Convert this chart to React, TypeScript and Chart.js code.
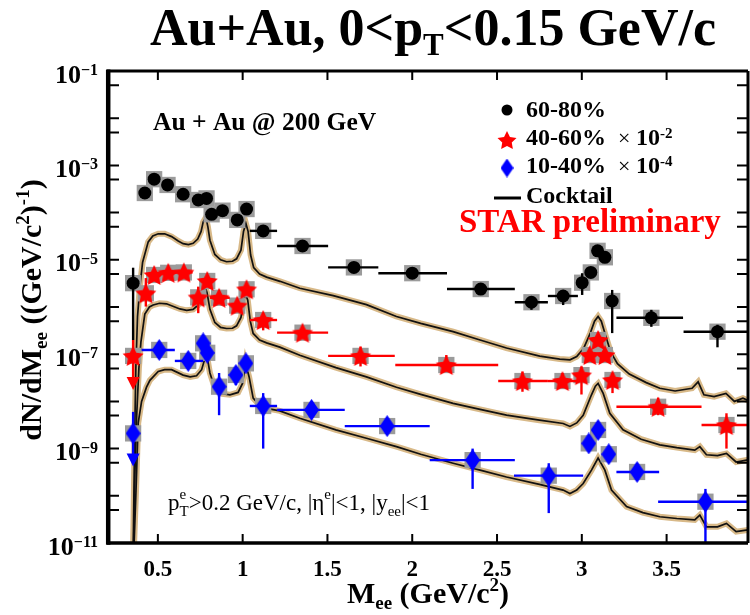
import React, { useEffect, useRef } from "react";
import { Chart, registerables } from "chart.js";
Chart.register(...registerables);

// ---------------- axis ranges & ticks ----------------
const X_MIN = 0.2;
const X_MAX = 3.98;
const Y_MIN = 1e-11;
const Y_MAX = 1e-1;
const xTickValues = [0.5, 1, 1.5, 2, 2.5, 3, 3.5];
const xTickLabels = ["0.5", "1", "1.5", "2", "2.5", "3", "3.5"];
const yTickValues = [1e-1, 5e-2, 1e-2, 5e-3, 1e-3, 5e-4, 1e-4, 5e-5, 1e-5, 5e-6, 1e-6, 5e-7, 1e-7, 5e-8, 1e-8, 5e-9, 1e-9, 5e-10, 1e-10, 5e-11, 1e-11];
const yLabelValues = [1e-1, 1e-3, 1e-5, 1e-7, 1e-9, 1e-11];
const yLabelExponents = ["\u22121", "\u22123", "\u22125", "\u22127", "\u22129", "\u221211"];

// ---------------- 60-80% (black circles) ----------------
const mass6080 = [0.354, 0.423, 0.478, 0.557, 0.649, 0.738, 0.787, 0.817, 0.881, 0.968, 1.023, 1.121, 1.353, 1.656, 2.0, 2.404, 2.703, 2.89, 3.002, 3.053, 3.093, 3.136, 3.179, 3.41, 3.8];
const yield6080 = [3.2e-6, 2.6e-4, 5.1e-4, 3.85e-4, 2.45e-4, 1.85e-4, 2.0e-4, 9.2e-5, 1.1e-4, 7.0e-5, 1.19e-4, 4.1e-5, 1.96e-5, 6.9e-6, 5.2e-6, 2.4e-6, 1.26e-6, 1.71e-6, 3.27e-6, 5.4e-6, 1.55e-5, 1.13e-5, 1.34e-6, 5.9e-7, 3.0e-7];
const xLo6080 = [null, null, null, null, null, null, null, null, null, null, null, 1.042, 1.203, 1.504, 1.8, 2.205, 2.605, 2.8, null, null, null, null, null, 3.204, 3.6];
const xHi6080 = [null, null, null, null, null, null, null, null, null, null, null, 1.203, 1.504, 1.8, 2.205, 2.605, 2.8, 2.977, null, null, null, null, null, 3.597, 4.0];
const yLo6080 = [2.0e-7, null, null, null, null, null, null, null, null, null, null, null, null, null, null, null, 8.7e-7, 1.1e-6, 1.8e-6, null, null, null, 2.8e-7, 3.8e-7, 1.4e-7];
const yHi6080 = [6.8e-6, null, null, null, null, null, null, null, null, null, null, null, null, null, null, null, 1.66e-6, 2.3e-6, 5.2e-6, null, null, null, 2.3e-6, 8.7e-7, 4.2e-7];

// ---------------- 40-60% x 1e-2 (red stars) ----------------
const mass4060 = [0.354, 0.429, 0.478, 0.561, 0.653, 0.738, 0.791, 0.861, 0.968, 1.023, 1.121, 1.353, 1.695, 2.201, 2.65, 2.886, 2.998, 3.047, 3.096, 3.136, 3.181, 3.45, 3.853];
const yield4060 = [9.2e-8, 1.95e-6, 4.77e-6, 5.3e-6, 5.4e-6, 1.6e-6, 3.56e-6, 1.57e-6, 1.07e-6, 2.37e-6, 5.3e-7, 2.86e-7, 9.2e-8, 5.9e-8, 2.7e-8, 2.7e-8, 3.6e-8, 9.6e-8, 2.0e-7, 9.6e-8, 2.84e-8, 7.7e-9, 3.16e-9];
const xLo4060 = [null, null, null, 0.51, 0.6, null, null, 0.807, null, null, 1.042, 1.203, 1.504, 1.9, 2.507, 2.8, null, null, null, null, null, 3.204, 3.706];
const xHi4060 = [null, null, null, 0.61, 0.705, null, null, 0.924, null, null, 1.203, 1.504, 1.897, 2.507, 2.8, 2.977, null, null, null, null, null, 3.706, 4.0];
const yLo4060 = [1.74e-8, 1.02e-6, null, null, null, 7.4e-7, null, null, null, null, 3.2e-7, null, 5.5e-8, 4.3e-8, 1.6e-8, 1.9e-8, 1.4e-8, null, null, null, 1.5e-8, 5.1e-9, 1.0e-9];
const yHi4060 = [2.0e-7, 4.1e-6, null, null, null, 2.7e-6, null, null, null, null, 7.4e-7, null, 1.45e-7, 9.6e-8, 4.3e-8, 4.0e-8, 5.5e-8, null, null, null, 4.0e-8, 1.2e-8, 5.6e-9];
const upperLimit4060 = [true, false, false, false, false, false, false, false, false, false, false, false, false, false, false, false, false, false, false, false, false, false, false];

// ---------------- 10-40% x 1e-4 (blue diamonds) ----------------
const mass1040 = [0.354, 0.508, 0.679, 0.767, 0.791, 0.861, 0.96, 1.019, 1.121, 1.406, 1.852, 2.356, 2.805, 3.041, 3.096, 3.159, 3.326, 3.729];
const yield1040 = [2.1e-9, 1.23e-7, 7.2e-8, 1.7e-7, 1.07e-7, 2.05e-8, 3.63e-8, 6.4e-8, 8.0e-9, 6.6e-9, 3.0e-9, 5.7e-10, 2.67e-10, 1.29e-9, 2.48e-9, 7.6e-10, 3.2e-10, 7.5e-11];
const xLo1040 = [null, 0.404, 0.6, null, null, null, null, null, 1.042, 1.203, 1.602, 2.103, 2.6, null, null, null, 3.204, 3.45];
const xHi1040 = [null, 0.6, 0.767, null, null, null, null, null, 1.203, 1.602, 2.103, 2.605, 3.008, null, null, null, 3.456, 4.0];
const yLo1040 = [4.2e-10, null, null, null, null, 5.1e-9, 2.2e-8, null, 1.0e-9, null, null, 1.4e-10, 4.3e-11, null, null, null, 2.1e-10, 1e-12];
const yHi1040 = [6.0e-9, null, null, null, null, 4.0e-8, 4.6e-8, null, 1.5e-8, null, null, 1.0e-9, 4.9e-10, null, null, null, 4.9e-10, 1.4e-10];
const upperLimit1040 = [true, false, false, false, false, false, false, false, false, false, false, false, false, false, false, false, false, false];

// ---------------- cocktails [mass, dN/dM] ----------------
const cocktail6080: [number, number][] = [
  [0.355, 1e-11], [0.362, 1e-9], [0.37, 5e-8], [0.38, 6.3e-7], [0.393, 2.5e-6], [0.41, 8.9e-6], [0.443, 2.4e-5], [0.47, 3.2e-5],
  [0.502, 3.55e-5], [0.54, 3.55e-5], [0.581, 3.1e-5], [0.62, 2.5e-5], [0.649, 2.2e-5], [0.68, 2.1e-5], [0.708, 2.24e-5], [0.735, 2.75e-5],
  [0.755, 4.0e-5], [0.767, 6.3e-5], [0.783, 7.9e-5], [0.795, 5.0e-5], [0.807, 2.6e-5], [0.836, 1.3e-5], [0.87, 1.0e-5], [0.905, 9.1e-6],
  [0.94, 9.3e-6], [0.964, 1.05e-5], [0.99, 1.6e-5], [1.005, 4.0e-5], [1.019, 5.9e-5], [1.032, 4.0e-5], [1.047, 1.26e-5], [1.065, 6.8e-6],
  [1.1, 5.0e-6], [1.141, 4.3e-6], [1.22, 3.5e-6], [1.337, 2.5e-6], [1.534, 1.74e-6], [1.73, 1.12e-6], [1.907, 6.3e-7], [2.05, 4.5e-7],
  [2.241, 3.0e-7], [2.4, 2.0e-7], [2.556, 1.35e-7], [2.752, 9.1e-8], [2.87, 7.9e-8], [2.93, 7.6e-8], [2.97, 8.9e-8], [3.01, 1.32e-7],
  [3.05, 2.8e-7], [3.075, 5.0e-7], [3.096, 6.3e-7], [3.115, 5.0e-7], [3.14, 2.5e-7], [3.17, 1.12e-7], [3.21, 6.3e-8], [3.28, 3.8e-8],
  [3.38, 2.5e-8], [3.46, 1.9e-8], [3.55, 1.66e-8], [3.65, 1.9e-8], [3.686, 2.6e-8], [3.72, 1.38e-8], [3.78, 1.26e-8], [3.85, 1.48e-8],
  [3.9, 1.0e-8], [3.95, 1.17e-8], [3.98, 1.05e-8],
];
const cocktail4060: [number, number][] = [
  [0.357, 1e-11], [0.365, 3.2e-10], [0.375, 5e-9], [0.388, 5e-8], [0.4, 1.8e-7], [0.423, 7.1e-7], [0.45, 1.0e-6], [0.472, 1.1e-6],
  [0.51, 1.2e-6], [0.551, 1.17e-6], [0.6, 1.0e-6], [0.63, 9.1e-7], [0.67, 8.5e-7], [0.708, 8.9e-7], [0.74, 1.12e-6], [0.76, 1.78e-6],
  [0.777, 2.8e-6], [0.79, 2.0e-6], [0.807, 8.9e-7], [0.836, 4.7e-7], [0.87, 3.7e-7], [0.905, 3.5e-7], [0.94, 3.55e-7], [0.964, 4.0e-7],
  [0.99, 6.0e-7], [1.005, 1.26e-6], [1.017, 1.9e-6], [1.03, 1.4e-6], [1.045, 5.0e-7], [1.062, 2.75e-7], [1.1, 2.0e-7], [1.141, 1.74e-7],
  [1.219, 1.41e-7], [1.337, 9.5e-8], [1.55, 5.2e-8], [1.73, 3.3e-8], [1.907, 2.0e-8], [2.05, 1.41e-8], [2.241, 9.1e-9], [2.4, 6.8e-9],
  [2.556, 5.1e-9], [2.75, 4.0e-9], [2.89, 3.4e-9], [2.93, 2.95e-9], [2.97, 3.5e-9], [3.008, 5.1e-9], [3.057, 1.38e-8], [3.08, 2.1e-8],
  [3.096, 2.4e-8], [3.126, 1.48e-8], [3.165, 5.6e-9], [3.243, 2.5e-9], [3.35, 1.58e-9], [3.46, 1.2e-9], [3.56, 1.05e-9], [3.666, 9.3e-10],
  [3.696, 1.1e-9], [3.735, 7.4e-10], [3.8, 7.1e-10], [3.853, 7.9e-10], [3.91, 5.2e-10], [3.98, 5.8e-10],
];
const cocktail1040: [number, number][] = [
  [0.36, 1e-11], [0.37, 1e-10], [0.384, 3.5e-9], [0.404, 1e-8], [0.433, 2.0e-8], [0.453, 2.8e-8], [0.502, 4.3e-8], [0.54, 4.7e-8],
  [0.581, 4.7e-8], [0.649, 3.6e-8], [0.69, 3.3e-8], [0.728, 3.5e-8], [0.758, 4.7e-8], [0.783, 9.5e-8], [0.795, 7.1e-8], [0.807, 4.0e-8],
  [0.836, 1.9e-8], [0.88, 1.45e-8], [0.925, 1.38e-8], [0.973, 1.55e-8], [0.999, 2.4e-8], [1.017, 6.5e-8], [1.038, 3.3e-8], [1.062, 1.17e-8],
  [1.1, 8.3e-9], [1.141, 7.1e-9], [1.219, 6.3e-9], [1.337, 4.4e-9], [1.55, 2.5e-9], [1.73, 1.66e-9], [1.907, 1.1e-9], [2.05, 7.6e-10],
  [2.241, 4.9e-10], [2.4, 3.5e-10], [2.556, 2.5e-10], [2.75, 1.74e-10], [2.89, 1.32e-10], [2.93, 1.12e-10], [2.97, 1.32e-10], [3.008, 1.82e-10],
  [3.057, 3.5e-10], [3.096, 6.3e-10], [3.136, 3.5e-10], [3.175, 1.32e-10], [3.264, 5.9e-11], [3.36, 4.4e-11], [3.46, 3.6e-11], [3.56, 3.3e-11],
  [3.666, 3.1e-11], [3.696, 3.9e-11], [3.735, 2.2e-11], [3.8, 2.2e-11], [3.853, 2.6e-11], [3.91, 1.74e-11], [3.98, 1.9e-11],
];

// ---------------- helpers ----------------
const SERIF = '"Liberation Serif", "Times New Roman", serif';
type Seg = { t: string; size: number; bold?: boolean; dy?: number; color?: string; stack?: boolean };
function segFont(s: Seg) {
  return `${s.bold ? "bold " : ""}${s.size}px ${SERIF}`;
}
function richWidth(ctx: CanvasRenderingContext2D, segs: Seg[]) {
  let w = 0;
  let stackW = 0;
  for (const s of segs) {
    ctx.font = segFont(s);
    const sw = ctx.measureText(s.t).width;
    if (s.stack) {
      stackW = Math.max(stackW, sw);
    } else {
      w += Math.max(sw, stackW);
      stackW = 0;
    }
  }
  return w + stackW;
}
function drawRich(ctx: CanvasRenderingContext2D, segs: Seg[], x: number, y: number, align: "left" | "center" | "right") {
  const w = richWidth(ctx, segs);
  let cx = align === "left" ? x : align === "center" ? x - w / 2 : x - w;
  ctx.textAlign = "left";
  ctx.textBaseline = "alphabetic";
  let stackW = 0;
  for (const s of segs) {
    ctx.font = segFont(s);
    ctx.fillStyle = s.color || "#000";
    ctx.fillText(s.t, cx, y + (s.dy || 0));
    const sw = ctx.measureText(s.t).width;
    if (s.stack) {
      stackW = Math.max(stackW, sw);
    } else {
      cx += Math.max(sw, stackW);
      stackW = 0;
    }
  }
}
function makeStar(outer: number, color: string) {
  const s = Math.ceil(outer * 2 + 2);
  const c = document.createElement("canvas");
  c.width = s;
  c.height = s;
  const ctx = c.getContext("2d")!;
  const cx = s / 2;
  const cy = s / 2 + outer * 0.1;
  const inner = outer * 0.5;
  ctx.beginPath();
  for (let i = 0; i < 10; i++) {
    const r = i % 2 === 0 ? outer : inner;
    const a = -Math.PI / 2 + (i * Math.PI) / 5;
    ctx.lineTo(cx + r * Math.cos(a), cy + r * Math.sin(a));
  }
  ctx.closePath();
  ctx.fillStyle = color;
  ctx.fill();
  return c;
}
function makeDiamond(w: number, h: number, color: string) {
  const c = document.createElement("canvas");
  c.width = w;
  c.height = h;
  const ctx = c.getContext("2d")!;
  ctx.beginPath();
  ctx.moveTo(w / 2, 0);
  ctx.lineTo(w, h / 2);
  ctx.lineTo(w / 2, h);
  ctx.lineTo(0, h / 2);
  ctx.closePath();
  ctx.fillStyle = color;
  ctx.fill();
  return c;
}

type Series = {
  mass: number[];
  val: number[];
  xLo: (number | null)[];
  xHi: (number | null)[];
  yLo: (number | null)[];
  yHi: (number | null)[];
  ul?: boolean[];
  color: string;
};

export default function App() {
  const ref = useRef<HTMLCanvasElement>(null);
  useEffect(() => {
    const canvas = ref.current!;
    const starImg = makeStar(11, "#ff0000");
    const diamondImg = makeDiamond(15, 22, "#0000ff");
    const starLeg = makeStar(10, "#ff0000");
    const diamondLeg = makeDiamond(13, 19, "#0000ff");

    const series: Series[] = [
      { mass: mass6080, val: yield6080, xLo: xLo6080, xHi: xHi6080, yLo: yLo6080, yHi: yHi6080, color: "#000000" },
      { mass: mass4060, val: yield4060, xLo: xLo4060, xHi: xHi4060, yLo: yLo4060, yHi: yHi4060, ul: upperLimit4060, color: "#ff0000" },
      { mass: mass1040, val: yield1040, xLo: xLo1040, xHi: xHi1040, yLo: yLo1040, yHi: yHi1040, ul: upperLimit1040, color: "#0000ff" },
    ];
    const pts = (s: Series) => s.mass.map((m, i) => ({ x: m, y: s.val[i] }));
    const curve = (c: [number, number][]) => c.map(([x, y]) => ({ x, y }));
    const cocktails = [cocktail6080, cocktail4060, cocktail1040];

    const datasets: any[] = [];
    cocktails.forEach((c) => {
      datasets.push({ type: "line", data: curve(c), borderColor: "#d8b988", borderWidth: 6, pointRadius: 0, tension: 0, order: 20 });
    });
    cocktails.forEach((c) => {
      datasets.push({ type: "line", data: curve(c), borderColor: "#111111", borderWidth: 1.7, pointRadius: 0, tension: 0, order: 19 });
    });
    series.forEach((s) => {
      datasets.push({ type: "scatter", data: pts(s), pointStyle: "rect", pointRadius: 11.5, backgroundColor: "#9b9b9b", borderWidth: 0, order: 10 });
    });
    const markerIndex: Record<number, Series> = {};
    const styles: any[] = ["circle", starImg, diamondImg];
    series.forEach((s, k) => {
      markerIndex[datasets.length] = s;
      datasets.push({
        type: "scatter",
        data: pts(s),
        pointStyle: styles[k],
        pointRadius: 6.5,
        backgroundColor: s.color,
        borderColor: s.color,
        borderWidth: 0,
        order: 3 - k,
      });
    });

    const errorPlugin = {
      id: "errbars",
      beforeDatasetDraw(chart: any, args: any) {
        const s = markerIndex[args.index];
        if (!s) return;
        const { ctx, chartArea: ca, scales } = chart;
        const xs = scales.x;
        const ys = scales.y;
        ctx.save();
        ctx.beginPath();
        ctx.rect(ca.left, ca.top, ca.right - ca.left, ca.bottom - ca.top);
        ctx.clip();
        ctx.strokeStyle = s.color;
        ctx.fillStyle = s.color;
        ctx.lineWidth = 2.4;
        s.mass.forEach((m, i) => {
          const px = xs.getPixelForValue(m);
          const py = ys.getPixelForValue(s.val[i]);
          const xl = s.xLo[i];
          const xh = s.xHi[i];
          if (xl != null && xh != null) {
            ctx.beginPath();
            ctx.moveTo(xs.getPixelForValue(xl), py);
            ctx.lineTo(xs.getPixelForValue(xh), py);
            ctx.stroke();
          }
          const yl = s.yLo[i];
          const yh = s.yHi[i];
          if (yl != null && yh != null) {
            const top = ys.getPixelForValue(yh);
            const bot = ys.getPixelForValue(yl);
            const isUl = s.ul && s.ul[i];
            ctx.beginPath();
            ctx.moveTo(px, top);
            ctx.lineTo(px, isUl ? bot - 12 : bot);
            ctx.stroke();
            if (isUl) {
              ctx.beginPath();
              ctx.moveTo(px - 6.5, bot - 13);
              ctx.lineTo(px + 6.5, bot - 13);
              ctx.lineTo(px, bot);
              ctx.closePath();
              ctx.fill();
            }
          }
        });
        ctx.restore();
      },
    };

    const decorPlugin = {
      id: "decor",
      afterDraw(chart: any) {
        const { ctx, chartArea: ca, scales } = chart;
        const xs = scales.x;
        const ys = scales.y;
        ctx.save();
        ctx.strokeStyle = "#000";
        // ticks
        ctx.lineWidth = 2;
        yTickValues.forEach((v) => {
          const py = ys.getPixelForValue(v);
          ctx.beginPath();
          ctx.moveTo(ca.left, py);
          ctx.lineTo(ca.left + 12, py);
          ctx.moveTo(ca.right, py);
          ctx.lineTo(ca.right - 11, py);
          ctx.stroke();
        });
        xTickValues.forEach((v) => {
          const px = xs.getPixelForValue(v);
          ctx.beginPath();
          ctx.moveTo(px, ca.bottom);
          ctx.lineTo(px, ca.bottom - 9);
          ctx.moveTo(px, ca.top);
          ctx.lineTo(px, ca.top + 9);
          ctx.stroke();
        });
        // frame
        ctx.lineWidth = 3;
        ctx.beginPath();
        ctx.moveTo(ca.left, ca.top);
        ctx.lineTo(ca.right, ca.top);
        ctx.moveTo(ca.right, ca.top);
        ctx.lineTo(ca.right, ca.bottom);
        ctx.stroke();
        ctx.lineWidth = 3.5;
        ctx.beginPath();
        ctx.moveTo(ca.left, ca.bottom);
        ctx.lineTo(ca.right, ca.bottom);
        ctx.stroke();
        ctx.lineWidth = 4.5;
        ctx.beginPath();
        ctx.moveTo(ca.left + 1.2, ca.top - 1.5);
        ctx.lineTo(ca.left + 1.2, ca.bottom + 1.7);
        ctx.stroke();

        // x tick labels
        ctx.fillStyle = "#000";
        xTickValues.forEach((v, i) => {
          drawRich(ctx, [{ t: xTickLabels[i], size: 23, bold: true }], xs.getPixelForValue(v), 576, "center");
        });
        // y tick labels
        yLabelValues.forEach((v, i) => {
          const py = ys.getPixelForValue(v);
          drawRich(
            ctx,
            [
              { t: "10", size: 26, bold: true },
              { t: yLabelExponents[i], size: 16, bold: true, dy: -7.5 },
            ],
            98,
            py + 11.5,
            "right"
          );
        });
        // axis titles
        drawRich(
          ctx,
          [
            { t: "M", size: 30, bold: true },
            { t: "ee", size: 19, bold: true, dy: 6 },
            { t: " (GeV/c", size: 30, bold: true },
            { t: "2", size: 19, bold: true, dy: -12 },
            { t: ")", size: 30, bold: true },
          ],
          428,
          603,
          "center"
        );
        ctx.save();
        ctx.translate(41, 310);
        ctx.rotate(-Math.PI / 2);
        drawRich(
          ctx,
          [
            { t: "dN/dM", size: 30, bold: true },
            { t: "ee", size: 19, bold: true, dy: 6 },
            { t: " ((GeV/c", size: 30, bold: true },
            { t: "2", size: 19, bold: true, dy: -12 },
            { t: ")", size: 30, bold: true },
            { t: "-1", size: 19, bold: true, dy: -12 },
            { t: ")", size: 30, bold: true },
          ],
          0,
          0,
          "center"
        );
        ctx.restore();

        // main title
        drawRich(
          ctx,
          [
            { t: "Au+Au, 0<p", size: 52, bold: true },
            { t: "T", size: 31, bold: true, dy: 10 },
            { t: "<0.15 GeV/c", size: 52, bold: true },
          ],
          433,
          45,
          "center"
        );

        // in-plot texts
        drawRich(ctx, [{ t: "Au + Au @ 200 GeV", size: 25.5, bold: true }], 153, 130, "left");
        drawRich(
          ctx,
          [
            { t: "p", size: 23 },
            { t: "e", size: 15, dy: -11, stack: true },
            { t: "T", size: 15, dy: 6 },
            { t: ">0.2 GeV/c, |\u03b7", size: 23 },
            { t: "e", size: 15, dy: -11 },
            { t: "|<1, |y", size: 23 },
            { t: "ee", size: 15, dy: 6 },
            { t: "|<1", size: 23 },
          ],
          168,
          510,
          "left"
        );

        // legend
        ctx.fillStyle = "#000";
        ctx.beginPath();
        ctx.arc(507, 110, 5.5, 0, Math.PI * 2);
        ctx.fill();
        ctx.drawImage(starLeg, 507 - starLeg.width / 2, 140 - starLeg.height / 2);
        ctx.drawImage(diamondLeg, 507 - diamondLeg.width / 2, 168 - diamondLeg.height / 2);
        ctx.lineWidth = 3;
        ctx.beginPath();
        ctx.moveTo(494, 198);
        ctx.lineTo(521, 198);
        ctx.stroke();
        drawRich(ctx, [{ t: "60-80%", size: 24, bold: true }], 526, 117, "left");
        drawRich(
          ctx,
          [
            { t: "40-60%  ", size: 24, bold: true },
            { t: "\u00d7 ", size: 22 },
            { t: "10", size: 24, bold: true },
            { t: "-2", size: 15, bold: true, dy: -7 },
          ],
          526,
          145,
          "left"
        );
        drawRich(
          ctx,
          [
            { t: "10-40%  ", size: 24, bold: true },
            { t: "\u00d7 ", size: 22 },
            { t: "10", size: 24, bold: true },
            { t: "-4", size: 15, bold: true, dy: -7 },
          ],
          526,
          173,
          "left"
        );
        drawRich(ctx, [{ t: "Cocktail", size: 24, bold: true }], 526, 203, "left");
        drawRich(ctx, [{ t: "STAR preliminary", size: 33, bold: true, color: "#ff0000" }], 459, 232, "left");
        ctx.restore();
      },
    };

    const chart = new Chart(canvas, {
      type: "scatter",
      data: { datasets },
      options: {
        animation: false,
        responsive: false,
        devicePixelRatio: 1,
        events: [],
        layout: { autoPadding: false, padding: { top: 71, right: 2, left: 0, bottom: 0 } },
        plugins: { legend: { display: false }, tooltip: { enabled: false } },
        scales: {
          x: {
            type: "linear",
            min: X_MIN,
            max: X_MAX,
            ticks: { display: false },
            grid: { display: false },
            border: { display: false },
            afterFit: (s: any) => {
              s.height = 72;
            },
          },
          y: {
            type: "logarithmic",
            min: Y_MIN,
            max: Y_MAX,
            ticks: { display: false },
            grid: { display: false },
            border: { display: false },
            afterFit: (s: any) => {
              s.width = 107;
            },
          },
        },
      } as any,
      plugins: [errorPlugin, decorPlugin],
    } as any);
    return () => chart.destroy();
  }, []);
  return (
    <div style={{ position: "absolute", left: 0, top: 0, width: 750, height: 615, background: "#fff" }}>
      <canvas ref={ref} width={750} height={615} style={{ display: "block" }} />
    </div>
  );
}
